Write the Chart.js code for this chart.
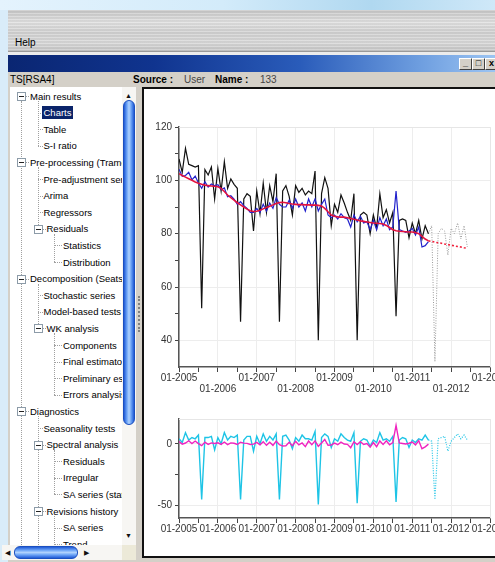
<!DOCTYPE html>
<html>
<head>
<meta charset="utf-8">
<title>TS[RSA4] - Charts</title>
<script src="https://cdn.jsdelivr.net/npm/chart.js@4"></script>
<style>
  html, body { margin: 0; padding: 0; }
  body {
    width: 495px; height: 562px; overflow: hidden; position: relative;
    background: #d9ecf9;
    font-family: "Liberation Sans", Arial, sans-serif; font-size: 10px; color: #000;
  }
  div, canvas { position: absolute; }
  #sky { left: 0; top: 0; width: 495px; height: 10px;
    background: linear-gradient(90deg, #e4f3fd 0%, #d3ebfa 45%, #b0d8f0 75%, #cfe8f8 100%); }
  #menu { left: 8px; top: 10px; width: 487px; height: 41px;
    background:
      repeating-linear-gradient(180deg, rgba(255,255,255,.22) 0 1px, rgba(0,0,0,.035) 1px 3px),
      linear-gradient(180deg, #c6c6c6 0%, #e0e0e0 30%, #d0d0d0 55%, #d8d8d8 80%, #c4c4c4 100%);
    border-bottom: 1px solid #9a9a9a; }
  #strip { left: 8px; top: 52px; width: 487px; height: 3px; background: #ececec; }
  #title { left: 8px; top: 55px; width: 487px; height: 17px;
    background: linear-gradient(90deg, #0a2672 0%, #10348f 30%, #2a5cba 60%, #6f9fe0 85%, #9cc4f2 100%); }
  .wbtn { top: 58px; width: 11px; height: 10px; background: #d4d0c8;
    border: 1px solid; border-color: #fff #404040 #404040 #fff;
    font-size: 9px; line-height: 9px; text-align: center; font-weight: bold; }
  #app { left: 8px; top: 72px; width: 487px; height: 490px; background: #d4d0c8; }
  #tree { left: 10px; top: 87px; width: 112px; height: 458px; background: #fff; overflow: hidden; font-size: 9.5px; }
  #vscroll { left: 122px; top: 87px; width: 14px; height: 458px; background: #f7f6f3; }
  #hscroll { left: 2px; top: 545px; width: 120px; height: 15px; background: #f7f6f3; }
  #corner { left: 122px; top: 545px; width: 14px; height: 15px; background: #ece9d8; }
  .arrow { font-size: 7px; line-height: 7px; color: #111; }
  #panel { left: 142px; top: 87px; width: 360px; height: 467px; background: #fff;
    border: 2px solid #111; }
</style>
</head>
<body>
<div id="sky"></div>
<div id="menu"><div style="left:7px;top:27px;">Help</div></div>
<div id="strip"></div>
<div id="title"></div>
<div class="wbtn" style="left:459px;">_</div>
<div class="wbtn" style="left:472px;">&#9633;</div>
<div class="wbtn" style="left:485px;">x</div>
<div id="app"></div>
<div style="left:10px;top:74px;">TS[RSA4]</div>
<div style="left:133px;top:74px;font-weight:bold;">Source :</div>
<div style="left:184px;top:74px;color:#444;">User</div>
<div style="left:215px;top:74px;font-weight:bold;">Name :</div>
<div style="left:260px;top:74px;color:#444;">133</div>

<div id="tree"></div>
<div id="vscroll">
  <div class="arrow" style="left:3px;top:5px;">&#9650;</div>
  <div style="left:1px;top:13px;width:10px;height:323px;border-radius:6px;border:1px solid #1b4fc0;
    background:linear-gradient(90deg,#1f5ad6 0%,#6fa6f7 30%,#b0d2fd 50%,#6fa6f7 70%,#1f5ad6 100%);"></div>
  <div class="arrow" style="left:3px;top:445px;">&#9660;</div>
</div>
<div id="hscroll">
  <div class="arrow" style="left:3px;top:4px;">&#9664;</div>
  <div style="left:12px;top:1px;width:62px;height:11px;border-radius:6px;border:1px solid #1b4fc0;
    background:linear-gradient(180deg,#1f5ad6 0%,#6fa6f7 30%,#b0d2fd 50%,#6fa6f7 70%,#1f5ad6 100%);"></div>
  <div class="arrow" style="left:82px;top:4px;">&#9654;</div>
</div>
<div id="corner"></div>
<div style="left:138px;top:296px;height:36px;border-left:2px dotted #808080;"></div>

<div id="panel"></div>
<canvas id="mainChart" width="365" height="310" style="left:145px;top:89px;"></canvas>
<canvas id="compChart" width="365" height="145" style="left:145px;top:400px;"></canvas>

<script>
// monthly data, first month = 01-2005
const yearLabels = ['01-2005', '01-2006', '01-2007', '01-2008', '01-2009', '01-2010', '01-2011', '01-2012', '01-2013'];
const mainTicks = [40, 50, 60, 70, 80, 90, 100, 110, 120];
const mainLabels = [40, 60, 80, 100, 120];
const compTicks = [-50, -25, 0];
const compLabels = [-50, 0];

// raw series
const series = [
    108, 103, 112, 106, 105.5, 105, 105.5, 52, 104, 102, 105, 93,
    104.5, 96, 107, 97, 100.5, 98.5, 97, 47, 93, 95, 94, 81,
    96, 87.5, 99, 88, 98, 92, 102.5, 47, 96, 98, 94, 87,
    98, 95.5, 97, 94.5, 96, 95, 103.5, 40, 95, 101, 97, 83,
    91, 88, 94.5, 91.5, 88, 85, 95, 40, 87, 88, 87, 80,
    87, 82, 95, 86, 89, 84, 88, 49, 85, 85.5, 85, 78.5,
    84, 80, 85, 78, 83, 80
];
// seasonally adjusted
const sa = [
    104.2, 101.5, 101.8, 103, 100.2, 101.6, 99, 97, 99.5, 97.5, 98.6, 98,
    98.4, 96.5, 97.2, 93.8, 94.2, 93, 91, 92, 90.5, 89.5, 88, 88,
    89.5, 88, 91, 88.5, 91.5, 89.5, 93.5, 91, 90, 90, 92.5, 89.5,
    93, 90, 91.5, 88.5, 93, 90, 93, 88.5, 91, 93, 87, 86,
    87, 85.5, 87.5, 86, 85.5, 82.5, 87, 84.5, 86.5, 84, 84.5, 81.5,
    85, 81.5, 86, 83, 85.5, 81.5, 82.5, 96, 81.5, 81, 80.5, 81,
    82, 79.5, 82.5, 75, 75.5, 77
];
const trend = [
    102.5, 101.8, 101.2, 100.6, 100, 99.4, 98.9, 98.5, 98.2, 98, 97.9, 97.8,
    97.6, 97, 95.8, 94.5, 93.5, 92.6, 91.6, 90.8, 90, 89.2, 88.6, 88.3,
    88.4, 88.8, 89.3, 89.8, 90.3, 90.8, 91.3, 91.7, 91.8, 91.6, 91.3, 91.1,
    91, 90.9, 90.9, 90.8, 90.8, 90.7, 90.7, 90.6, 90.4, 89.5, 88.2, 87,
    86.5, 86.3, 86.2, 86.2, 86, 85.7, 85.4, 85.1, 84.8, 84.6, 84.4, 84.2,
    84, 83.9, 83.8, 83.6, 83.1, 82.3, 81.5, 81.1, 80.9, 80.8, 80.7, 80.6,
    80.6, 80.4, 80, 79, 78, 77.3
];
// forecasts start at month 77 (06-2011)
const forecastStart = 77;
const seriesForecast = [80, 83, 32, 80, 82, 81, 72, 82, 80, 84, 78, 83, 75];
const trendForecast = [77.3, 77.1, 76.8, 76.6, 76.4, 76.1, 75.9, 75.7, 75.4, 75.2, 75, 74.7, 74.5];

const seasonal = [
    4, 1, 9, 3, 5, 4, 7, -45, 5, 5, 6, -5,
    5, 0, 9, 3, 6, 5, 7, -45, 3, 6, 6, -6,
    6, 0, 8, 2, 6, 3, 8, -45, 6, 7, 3, -4,
    5, 2, 7, 4, 4, 3, 10, -49, 5, 8, 6, -3,
    4, 2, 8, 5, 3, 2, 9, -48, 2, 4, 3, -2,
    3, 1, 9, 3, 4, 2, 6, -47, 3, 5, 4, -3,
    3, 1, 4, 3, 7, 3
];
const seasonalForecast = [3, 2, -45, 4, 5, 6, -6, 2, 5, 8, 4, 7, 3];
const irregular = [
    1.7, -0.3, 0.6, 2.4, 0.2, 2.2, 0.1, -1.5, 1.3, -0.5, 0.7, 0.2,
    0.8, -0.5, 1.4, -0.7, 0.7, 0.4, -0.6, 1.2, 0.5, 0.3, -0.6, -0.3,
    1.1, -0.8, 1.7, -1.3, 1.2, -1.3, 2.2, -0.7, -1.8, -1.6, 1.2, -1.6,
    2, -0.9, 0.6, -2.3, 2.2, -0.7, 2.3, -2.1, 0.6, 3.5, -1.2, -1,
    0.5, -0.8, 1.3, -0.2, -0.5, -3.2, 1.6, -0.6, 1.7, -0.6, 0.1, -2.7,
    1, -2.4, 2.2, -0.6, 2.4, -0.8, 1, 14.9, 0.6, 0.2, -0.2, 0.4,
    1.4, -0.9, 2.5, -4, -2.5, -0.3
];

// --- tree on the left ---
const treeRows = [
    [0, 'box', 'Main results'],
    [1, 'leaf', 'Charts', true],
    [1, 'leaf', 'Table'],
    [1, 'leaf', 'S-I ratio'],
    [0, 'box', 'Pre-processing (Tramo'],
    [1, 'leaf', 'Pre-adjustment ser'],
    [1, 'leaf', 'Arima'],
    [1, 'leaf', 'Regressors'],
    [1, 'box', 'Residuals'],
    [2, 'leaf', 'Statistics'],
    [2, 'leaf', 'Distribution'],
    [0, 'box', 'Decomposition (Seats)'],
    [1, 'leaf', 'Stochastic series'],
    [1, 'leaf', 'Model-based tests'],
    [1, 'box', 'WK analysis'],
    [2, 'leaf', 'Components'],
    [2, 'leaf', 'Final estimator'],
    [2, 'leaf', 'Preliminary est'],
    [2, 'leaf', 'Errors analysis'],
    [0, 'box', 'Diagnostics'],
    [1, 'leaf', 'Seasonality tests'],
    [1, 'box', 'Spectral analysis'],
    [2, 'leaf', 'Residuals'],
    [2, 'leaf', 'Irregular'],
    [2, 'leaf', 'SA series (stat'],
    [1, 'box', 'Revisions history'],
    [2, 'leaf', 'SA series'],
    [2, 'leaf', 'Trend']
];

const tree = document.getElementById('tree');
const addDiv = (parent, css, text) => {
    const d = document.createElement('div');
    d.style.cssText = css;
    if (text) d.textContent = text;
    parent.appendChild(d);
    return d;
};
const rowY = i => 9 + i * 16.6;
const lineX = lvl => 11 + lvl * 16.5;
const dotted = '1px dotted #a0a0a0';

// root line
addDiv(tree, `left:${lineX(0)}px;top:${rowY(0) + 5}px;height:460px;border-left:${dotted};`);
treeRows.forEach(([lvl, kind], i) => {
    if (kind !== 'box') return;
    let last = -1, j = i + 1;
    while (j < treeRows.length && treeRows[j][0] > lvl) {
        if (treeRows[j][0] === lvl + 1) last = j;
        j++;
    }
    const bottom = j >= treeRows.length ? 470 : rowY(last);
    addDiv(tree, `left:${lineX(lvl + 1)}px;top:${rowY(i) + 5}px;height:${bottom - rowY(i) - 5}px;border-left:${dotted};`);
});
treeRows.forEach(([lvl, kind, label, selected], i) => {
    const y = rowY(i), x = lineX(lvl);
    if (kind === 'box') {
        addDiv(tree, `left:${x + 5}px;top:${y}px;width:3px;border-top:${dotted};`);
        const b = addDiv(tree, `left:${x - 4}px;top:${y - 4}px;width:7px;height:7px;border:1px solid #8c9ba8;background:#fff;`);
        addDiv(b, 'left:1px;top:3px;width:5px;height:1px;background:#222;');
        addDiv(tree, `left:${x + 8}px;top:${y - 6.5}px;white-space:nowrap;line-height:13px;padding:0 1px;`, label);
    } else {
        const off = lvl === 2 ? 7 : 4;
        addDiv(tree, `left:${x}px;top:${y}px;width:${off + 1}px;border-top:${dotted};`);
        addDiv(tree, `left:${x + off}px;top:${y - 6.5}px;white-space:nowrap;line-height:13px;padding:0 2px;` +
            (selected ? 'background:#0a246a;color:#fff;' : ''), label);
    }
});

// --- charts ---
const pts = (arr, start) => arr.map((v, i) => ({ x: start + i, y: v }));

const plotFrame = {
    id: 'plotFrame',
    beforeDatasetsDraw(chart) {
        const { ctx, chartArea: a } = chart;
        ctx.save();
        ctx.strokeStyle = '#e6e6e6';
        ctx.lineWidth = 1;
        ctx.beginPath();
        ctx.moveTo(a.left, Math.round(a.top) + 0.5);
        ctx.lineTo(Math.round(a.right) + 0.5, Math.round(a.top) + 0.5);
        ctx.lineTo(Math.round(a.right) + 0.5, a.bottom);
        ctx.stroke();
        ctx.restore();
    }
};

Chart.defaults.font.family = '"Liberation Sans", Arial, sans-serif';
Chart.defaults.font.size = 10;
Chart.defaults.color = '#333';

const xAxis = (twoRows, height) => ({
    type: 'linear',
    min: 0,
    max: 96,
    afterBuildTicks: s => {
        s.ticks = [];
        for (let v = 0; v <= 96; v += 6) s.ticks.push({ value: v });
    },
    ticks: {
        autoSkip: false,
        maxRotation: 0,
        padding: 1,
        font: { size: 10, lineHeight: 1.1 },
        callback: v => {
            if (v % 12) return '';
            const label = yearLabels[v / 12];
            return twoRows && (v / 12) % 2 ? ['', label] : label;
        }
    },
    grid: {
        color: c => c.tick && c.tick.value % 12 === 0 ? '#ededed' : 'rgba(0,0,0,0)',
        tickColor: '#444',
        tickLength: 5
    },
    border: { color: '#555', width: 1.5 },
    afterFit: s => {
        s.paddingLeft = 0;
        s.paddingRight = 20;
        s.height = height;
    }
});

const yAxis = (min, max, tickValues, labelValues) => ({
    min: min,
    max: max,
    afterBuildTicks: s => { s.ticks = tickValues.map(v => ({ value: v })); },
    ticks: {
        padding: 3,
        callback: v => labelValues.includes(v) ? v : ''
    },
    grid: {
        color: c => c.tick && labelValues.includes(c.tick.value) ? '#ededed' : 'rgba(0,0,0,0)',
        tickColor: '#444',
        tickLength: 4
    },
    border: { color: '#555', width: 1.5 },
    afterFit: s => { s.width = 34; }
});

const baseOptions = (padTop, x, y) => ({
    responsive: false,
    animation: false,
    devicePixelRatio: 1,
    events: [],
    layout: { padding: { top: padTop, left: 0, right: 0, bottom: 0 } },
    plugins: { legend: { display: false }, tooltip: { enabled: false } },
    elements: { point: { radius: 0 }, line: { tension: 0 } },
    scales: { x: x, y: y }
});

new Chart(document.getElementById('mainChart'), {
    type: 'line',
    data: {
        datasets: [
            { label: 'Trend', data: pts(trend, 0), borderColor: '#e4123e', borderWidth: 1.6 },
            { label: 'Trend forecast', data: pts(trendForecast, forecastStart), borderColor: '#f0203c', borderWidth: 1.6, borderDash: [2, 2] },
            { label: 'Seasonally adjusted', data: pts(sa, 0), borderColor: '#2222cc', borderWidth: 1.2 },
            { label: 'Series', data: pts(series, 0), borderColor: '#111', borderWidth: 1.2 },
            { label: 'Series forecast', data: pts(seriesForecast, forecastStart), borderColor: '#9a9a9a', borderWidth: 1, borderDash: [1, 1.5] }
        ]
    },
    options: baseOptions(38, xAxis(true, 32), yAxis(30, 120, mainTicks, mainLabels)),
    plugins: [plotFrame]
});

new Chart(document.getElementById('compChart'), {
    type: 'line',
    data: {
        datasets: [
            { label: 'Irregular', data: pts(irregular, 0), borderColor: '#f024c0', borderWidth: 1.4 },
            { label: 'Seasonal', data: pts(seasonal, 0), borderColor: '#1ec4e6', borderWidth: 1.4 },
            { label: 'Seasonal forecast', data: pts(seasonalForecast, forecastStart), borderColor: '#1ec4e6', borderWidth: 1.2, borderDash: [1, 1.5] }
        ]
    },
    options: baseOptions(19, xAxis(false, 27), yAxis(-60, 20, compTicks, compLabels)),
    plugins: [plotFrame]
});
</script>
</body>
</html>
